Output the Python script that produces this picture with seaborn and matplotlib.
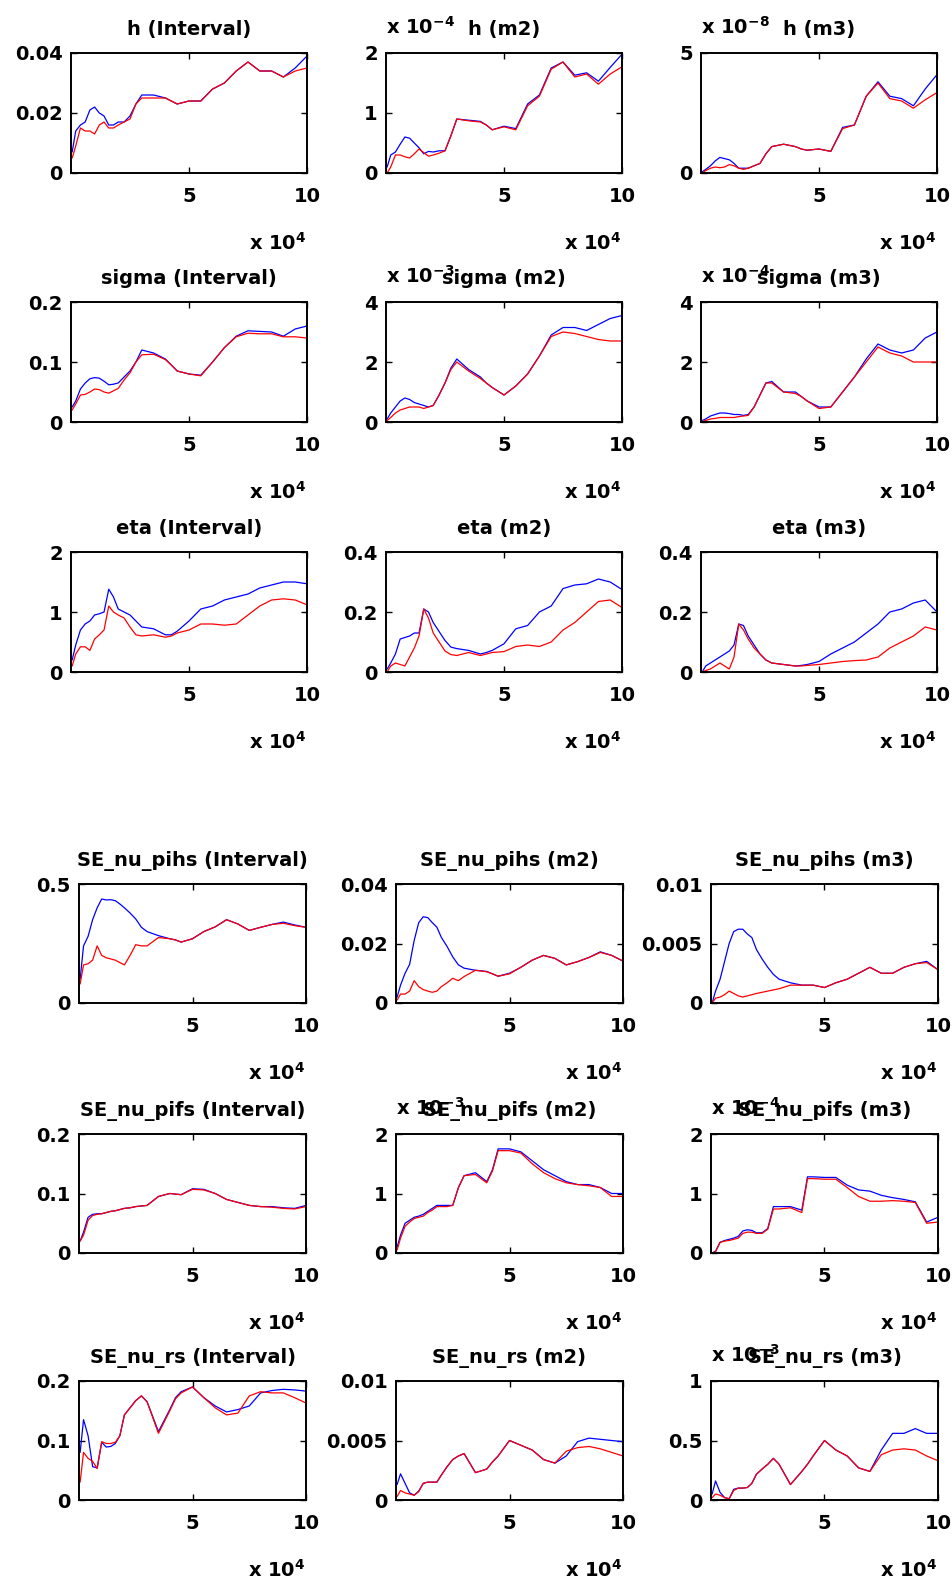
import numpy as np
import pandas as pd
import matplotlib
matplotlib.use('Agg')
import matplotlib.pyplot as plt
import seaborn as sns

# common x grid (units of 1e4 samples)
G = [0.05, 0.2, 0.4, 0.6, 0.8, 1.0, 1.2, 1.4, 1.6, 1.8, 2.0, 2.25, 2.5, 2.75, 3.0,
     3.5, 4.0, 4.25, 4.5, 5.0, 5.5, 6.0, 6.5, 7.0, 7.5, 8.0, 8.5, 9.0, 9.5, 10.0]

h_int_b = [0.007,0.014,0.016,0.017,0.021,0.022,0.020,0.019,0.016,0.016,0.017,0.017,0.019,0.023,0.026,0.026,0.025,0.024,0.023,0.024,0.024,0.028,0.030,0.034,0.037,0.034,0.034,0.032,0.035,0.039]
h_int_r = [0.005,0.009,0.015,0.014,0.014,0.013,0.016,0.017,0.015,0.015,0.016,0.017,0.018,0.023,0.025,0.025,0.025,0.024,0.023,0.024,0.024,0.028,0.030,0.034,0.037,0.034,0.034,0.032,0.034,0.035]
h_m2_b = [0.1,0.3,0.35,0.48,0.6,0.58,0.5,0.42,0.32,0.36,0.35,0.37,0.37,0.62,0.9,0.88,0.86,0.8,0.72,0.78,0.74,1.15,1.3,1.75,1.85,1.63,1.67,1.53,1.76,1.98]
h_m2_r = [0.0,0.1,0.3,0.3,0.27,0.25,0.32,0.4,0.34,0.28,0.3,0.33,0.37,0.62,0.9,0.87,0.85,0.8,0.72,0.77,0.72,1.12,1.28,1.73,1.85,1.6,1.65,1.48,1.65,1.77]
h_m3_b = [0.05,0.15,0.3,0.5,0.65,0.6,0.55,0.4,0.2,0.2,0.2,0.3,0.4,0.8,1.1,1.2,1.1,1.0,0.95,1.0,0.9,1.9,2.0,3.2,3.8,3.2,3.1,2.8,3.5,4.1]
h_m3_r = [0.0,0.1,0.2,0.25,0.22,0.25,0.35,0.3,0.2,0.15,0.2,0.3,0.4,0.8,1.1,1.2,1.1,1.0,0.95,1.0,0.9,1.85,2.0,3.2,3.75,3.1,3.0,2.7,3.05,3.35]

sig_int_b = [0.025,0.035,0.055,0.065,0.072,0.074,0.073,0.068,0.062,0.063,0.065,0.075,0.085,0.1,0.12,0.115,0.105,0.095,0.085,0.08,0.078,0.1,0.124,0.143,0.152,0.151,0.15,0.143,0.155,0.16]
sig_int_r = [0.02,0.03,0.045,0.046,0.05,0.055,0.054,0.05,0.048,0.052,0.056,0.07,0.082,0.1,0.112,0.113,0.104,0.095,0.085,0.08,0.077,0.1,0.124,0.142,0.148,0.147,0.147,0.142,0.142,0.14]
sig_m2_b = [0.1,0.3,0.5,0.7,0.8,0.75,0.65,0.6,0.55,0.5,0.55,0.9,1.3,1.8,2.1,1.75,1.5,1.3,1.15,0.9,1.2,1.6,2.2,2.9,3.15,3.15,3.05,3.25,3.45,3.55]
sig_m2_r = [0.05,0.15,0.3,0.4,0.45,0.5,0.5,0.5,0.45,0.5,0.55,0.9,1.3,1.75,2.0,1.7,1.45,1.3,1.15,0.9,1.2,1.6,2.2,2.85,3.0,2.95,2.85,2.75,2.7,2.7]
sig_m3_b = [0.05,0.1,0.2,0.25,0.3,0.3,0.28,0.25,0.25,0.22,0.25,0.5,0.9,1.3,1.35,1.0,1.0,0.85,0.7,0.5,0.5,1.0,1.5,2.1,2.6,2.4,2.3,2.4,2.8,3.0]
sig_m3_r = [0.02,0.05,0.1,0.12,0.15,0.15,0.15,0.15,0.18,0.2,0.22,0.5,0.9,1.3,1.3,1.0,0.95,0.85,0.7,0.45,0.5,1.0,1.5,2.0,2.5,2.3,2.2,2.0,2.0,2.0]

eta_int_b = [0.2,0.45,0.7,0.8,0.85,0.95,0.97,1.0,1.38,1.25,1.05,1.0,0.95,0.85,0.75,0.72,0.62,0.62,0.68,0.85,1.05,1.1,1.2,1.25,1.3,1.4,1.45,1.5,1.5,1.47]
eta_int_r = [0.1,0.3,0.42,0.42,0.36,0.55,0.62,0.7,1.1,1.0,0.95,0.9,0.75,0.62,0.6,0.62,0.58,0.6,0.65,0.7,0.8,0.8,0.78,0.8,0.95,1.1,1.2,1.22,1.2,1.12]
eta_m2_b = [0.01,0.03,0.06,0.11,0.115,0.12,0.13,0.13,0.21,0.2,0.165,0.135,0.105,0.083,0.078,0.072,0.06,0.065,0.072,0.094,0.144,0.155,0.2,0.22,0.278,0.29,0.294,0.31,0.3,0.275]
eta_m2_r = [0.0,0.02,0.03,0.025,0.02,0.05,0.08,0.12,0.21,0.18,0.13,0.1,0.07,0.058,0.055,0.065,0.055,0.06,0.065,0.068,0.085,0.09,0.085,0.1,0.14,0.165,0.2,0.235,0.24,0.215]
eta_m3_b = [0.0,0.02,0.03,0.04,0.05,0.06,0.07,0.09,0.16,0.155,0.12,0.09,0.06,0.04,0.03,0.025,0.02,0.022,0.025,0.035,0.06,0.08,0.1,0.13,0.16,0.2,0.21,0.23,0.24,0.2]
eta_m3_r = [0.0,0.005,0.01,0.02,0.03,0.02,0.01,0.05,0.16,0.14,0.11,0.08,0.06,0.04,0.03,0.025,0.02,0.02,0.022,0.025,0.03,0.035,0.038,0.04,0.05,0.08,0.1,0.12,0.15,0.14]

pihs_int_b = [0.1,0.24,0.28,0.35,0.4,0.437,0.433,0.434,0.43,0.416,0.4,0.378,0.353,0.318,0.3,0.283,0.27,0.265,0.256,0.27,0.3,0.32,0.35,0.332,0.305,0.318,0.33,0.34,0.328,0.318]
pihs_int_r = [0.08,0.16,0.165,0.18,0.24,0.2,0.19,0.185,0.18,0.17,0.16,0.2,0.245,0.24,0.24,0.275,0.27,0.265,0.256,0.27,0.3,0.32,0.35,0.332,0.305,0.318,0.33,0.335,0.325,0.318]
pihs_m2_b = [0.002,0.006,0.01,0.013,0.021,0.027,0.029,0.0287,0.027,0.0255,0.022,0.019,0.0155,0.0128,0.0117,0.011,0.0106,0.0098,0.009,0.01,0.012,0.0144,0.016,0.015,0.0128,0.0139,0.0153,0.0172,0.016,0.0141]
pihs_m2_r = [0.001,0.003,0.003,0.004,0.0075,0.0055,0.0045,0.004,0.0036,0.004,0.0055,0.0068,0.0083,0.0075,0.0089,0.011,0.0105,0.0098,0.009,0.0098,0.012,0.0144,0.016,0.015,0.0128,0.0139,0.0153,0.017,0.016,0.0141]
pihs_m3_b = [0.0,0.001,0.002,0.0035,0.005,0.006,0.0062,0.0062,0.0058,0.0055,0.0045,0.0037,0.003,0.0024,0.002,0.0017,0.0015,0.0015,0.0015,0.0013,0.0017,0.002,0.0025,0.003,0.0025,0.0025,0.003,0.0033,0.0035,0.0028]
pihs_m3_r = [0.0,0.0004,0.0005,0.0007,0.001,0.0008,0.0006,0.0005,0.0006,0.0007,0.0008,0.0009,0.001,0.0011,0.0012,0.0015,0.0015,0.0015,0.0015,0.0013,0.0017,0.002,0.0025,0.003,0.0025,0.0025,0.003,0.0033,0.0034,0.0028]

pifs_int_b = [0.02,0.035,0.06,0.065,0.066,0.066,0.068,0.07,0.071,0.073,0.075,0.076,0.078,0.079,0.08,0.095,0.1,0.099,0.098,0.108,0.107,0.1,0.09,0.085,0.08,0.078,0.078,0.076,0.075,0.08]
pifs_int_r = [0.02,0.03,0.055,0.063,0.065,0.066,0.068,0.07,0.071,0.073,0.075,0.076,0.078,0.079,0.08,0.095,0.1,0.099,0.098,0.107,0.106,0.1,0.09,0.085,0.08,0.078,0.077,0.075,0.074,0.078]
pifs_m2_b = [0.1,0.3,0.5,0.55,0.6,0.62,0.65,0.7,0.75,0.8,0.8,0.8,0.8,1.1,1.3,1.35,1.2,1.4,1.75,1.75,1.7,1.55,1.4,1.3,1.2,1.15,1.15,1.1,1.0,1.0]
pifs_m2_r = [0.05,0.25,0.45,0.52,0.58,0.6,0.62,0.68,0.72,0.78,0.78,0.78,0.8,1.1,1.3,1.32,1.18,1.38,1.72,1.72,1.68,1.5,1.35,1.25,1.18,1.15,1.13,1.1,0.95,0.95]
pifs_m3_b = [0.0,0.03,0.18,0.21,0.23,0.25,0.28,0.37,0.39,0.38,0.34,0.34,0.41,0.78,0.78,0.78,0.72,1.28,1.28,1.27,1.27,1.14,1.06,1.04,0.97,0.93,0.9,0.86,0.52,0.6]
pifs_m3_r = [0.0,0.02,0.18,0.2,0.21,0.23,0.25,0.33,0.35,0.35,0.33,0.33,0.4,0.74,0.74,0.76,0.68,1.25,1.25,1.24,1.24,1.1,0.95,0.87,0.87,0.88,0.87,0.85,0.5,0.52]

rs_int_b = [0.08,0.135,0.108,0.056,0.054,0.097,0.089,0.09,0.095,0.108,0.143,0.155,0.167,0.175,0.165,0.115,0.152,0.172,0.182,0.19,0.172,0.158,0.148,0.152,0.158,0.18,0.184,0.186,0.185,0.183]
rs_int_r = [0.03,0.08,0.07,0.065,0.053,0.098,0.095,0.095,0.097,0.108,0.143,0.155,0.167,0.175,0.165,0.112,0.15,0.17,0.18,0.19,0.172,0.155,0.143,0.146,0.175,0.182,0.18,0.18,0.172,0.163]
rs_m2_b = [0.0013,0.0022,0.0014,0.0006,0.0004,0.00075,0.0014,0.0015,0.0015,0.0015,0.0021,0.0028,0.0034,0.0037,0.0039,0.0023,0.0026,0.0032,0.0037,0.005,0.0046,0.0042,0.0034,0.0031,0.0037,0.0049,0.0052,0.0051,0.005,0.0049]
rs_m2_r = [0.0003,0.0008,0.0006,0.0005,0.0004,0.0007,0.0014,0.0015,0.0015,0.0015,0.0021,0.0028,0.0034,0.0037,0.0039,0.0023,0.0026,0.0032,0.0037,0.005,0.0046,0.0042,0.0034,0.0031,0.0041,0.0044,0.0045,0.0043,0.004,0.0037]
rs_m3_b = [0.05,0.16,0.064,0.02,0.01,0.09,0.1,0.1,0.105,0.14,0.216,0.26,0.3,0.35,0.3,0.13,0.24,0.3,0.37,0.5,0.42,0.37,0.27,0.24,0.42,0.56,0.56,0.6,0.56,0.56]
rs_m3_r = [0.02,0.05,0.04,0.02,0.01,0.08,0.1,0.1,0.105,0.14,0.216,0.26,0.3,0.35,0.3,0.13,0.24,0.3,0.37,0.5,0.42,0.37,0.27,0.24,0.38,0.42,0.43,0.42,0.37,0.33]

titles = ['h (Interval)', 'h (m2)', 'h (m3)',
          'sigma (Interval)', 'sigma (m2)', 'sigma (m3)',
          'eta (Interval)', 'eta (m2)', 'eta (m3)',
          'SE_nu_pihs (Interval)', 'SE_nu_pihs (m2)', 'SE_nu_pihs (m3)',
          'SE_nu_pifs (Interval)', 'SE_nu_pifs (m2)', 'SE_nu_pifs (m3)',
          'SE_nu_rs (Interval)', 'SE_nu_rs (m2)', 'SE_nu_rs (m3)']
blue_series = [h_int_b, h_m2_b, h_m3_b, sig_int_b, sig_m2_b, sig_m3_b,
               eta_int_b, eta_m2_b, eta_m3_b, pihs_int_b, pihs_m2_b, pihs_m3_b,
               pifs_int_b, pifs_m2_b, pifs_m3_b, rs_int_b, rs_m2_b, rs_m3_b]
red_series = [h_int_r, h_m2_r, h_m3_r, sig_int_r, sig_m2_r, sig_m3_r,
              eta_int_r, eta_m2_r, eta_m3_r, pihs_int_r, pihs_m2_r, pihs_m3_r,
              pifs_int_r, pifs_m2_r, pifs_m3_r, rs_int_r, rs_m2_r, rs_m3_r]
y_ticks = [[0, 0.02, 0.04], [0, 1, 2], [0, 5],
           [0, 0.1, 0.2], [0, 2, 4], [0, 2, 4],
           [0, 1, 2], [0, 0.2, 0.4], [0, 0.2, 0.4],
           [0, 0.5], [0, 0.02, 0.04], [0, 0.005, 0.01],
           [0, 0.1, 0.2], [0, 1, 2], [0, 1, 2],
           [0, 0.1, 0.2], [0, 0.005, 0.01], [0, 0.5, 1]]
y_labels = [['0', '0.02', '0.04'], ['0', '1', '2'], ['0', '5'],
            ['0', '0.1', '0.2'], ['0', '2', '4'], ['0', '2', '4'],
            ['0', '1', '2'], ['0', '0.2', '0.4'], ['0', '0.2', '0.4'],
            ['0', '0.5'], ['0', '0.02', '0.04'], ['0', '0.005', '0.01'],
            ['0', '0.1', '0.2'], ['0', '1', '2'], ['0', '1', '2'],
            ['0', '0.1', '0.2'], ['0', '0.005', '0.01'], ['0', '0.5', '1']]
y_exponents = [None, '-4', '-8', None, '-3', '-4', None, None, None,
               None, None, None, None, '-3', '-4', None, None, '-3']
x_ticks = [5e4, 1e5]
x_ticklabels = ['5', '10']

sns.set_theme(style='white')
plt.rcParams['font.family'] = ['DejaVu Sans']
plt.rcParams['font.weight'] = 'bold'
plt.rcParams['mathtext.fontset'] = 'dejavusans'
plt.rcParams['mathtext.default'] = 'bf'
plt.rcParams['text.color'] = 'black'
plt.rcParams['axes.labelcolor'] = 'black'
plt.rcParams['xtick.color'] = 'black'
plt.rcParams['ytick.color'] = 'black'
plt.rcParams['axes.titlecolor'] = 'black'

W, H = 953, 1596
fig = plt.figure(figsize=(W / 100, H / 100), dpi=100)
FS = 14

top_rows = [53, 302, 552]
bot_rows = [884, 1134, 1381]
top_cols = [71, 386, 701]
bot_cols = [79, 396, 711]

xs = np.array(G) * 1e4
for i in range(18):
    r, c = divmod(i, 3)
    if r < 3:
        top, left, w, h = top_rows[r], top_cols[c], 236, 120
    else:
        top, left, w, h = bot_rows[r - 3], bot_cols[c], 227, 119
    ax = fig.add_axes([left / W, 1 - (top + h) / H, w / W, h / H])
    df = pd.DataFrame({'x': np.concatenate([xs, xs]),
                       'y': np.concatenate([blue_series[i], red_series[i]]),
                       'series': ['blue'] * len(xs) + ['red'] * len(xs)})
    sns.lineplot(data=df, x='x', y='y', hue='series',
                 palette={'blue': '#0000ff', 'red': '#ff0000'},
                 linewidth=0.9, legend=False, ax=ax)
    ax.set_xlim(0, 1e5)
    yt = y_ticks[i]
    ax.set_ylim(0, yt[-1])
    ax.set_xticks(x_ticks)
    ax.set_xticklabels(x_ticklabels, fontsize=FS, fontweight='bold', color='black')
    ax.set_yticks(yt)
    ax.set_yticklabels(y_labels[i], fontsize=FS, fontweight='bold', color='black')
    ax.set_xlabel('')
    ax.set_ylabel('')
    ax.tick_params(axis='both', direction='in', length=4, width=1.0,
                   color='black', top=True, right=True, bottom=True, left=True)
    ax.tick_params(axis='x', pad=10)
    ax.tick_params(axis='y', pad=6)
    for sp in ax.spines.values():
        sp.set_color('black')
        sp.set_linewidth(1.4)
    ax.set_title(titles[i], fontsize=FS, fontweight='bold', pad=13, color='black')
    ax.annotate(r'x 10$^{4}$', xy=(1, 0), xycoords='axes fraction',
                xytext=(0, -55), textcoords='offset points', color='black',
                ha='right', va='baseline', fontsize=FS, fontweight='bold')
    if y_exponents[i] is not None:
        ax.annotate('x 10$^{' + y_exponents[i] + '}$', xy=(0, 1),
                    xycoords='axes fraction', xytext=(0, 14), color='black',
                    textcoords='offset points', ha='left', va='baseline',
                    fontsize=FS, fontweight='bold')

fig.savefig('out.png', dpi=100, facecolor='white')
